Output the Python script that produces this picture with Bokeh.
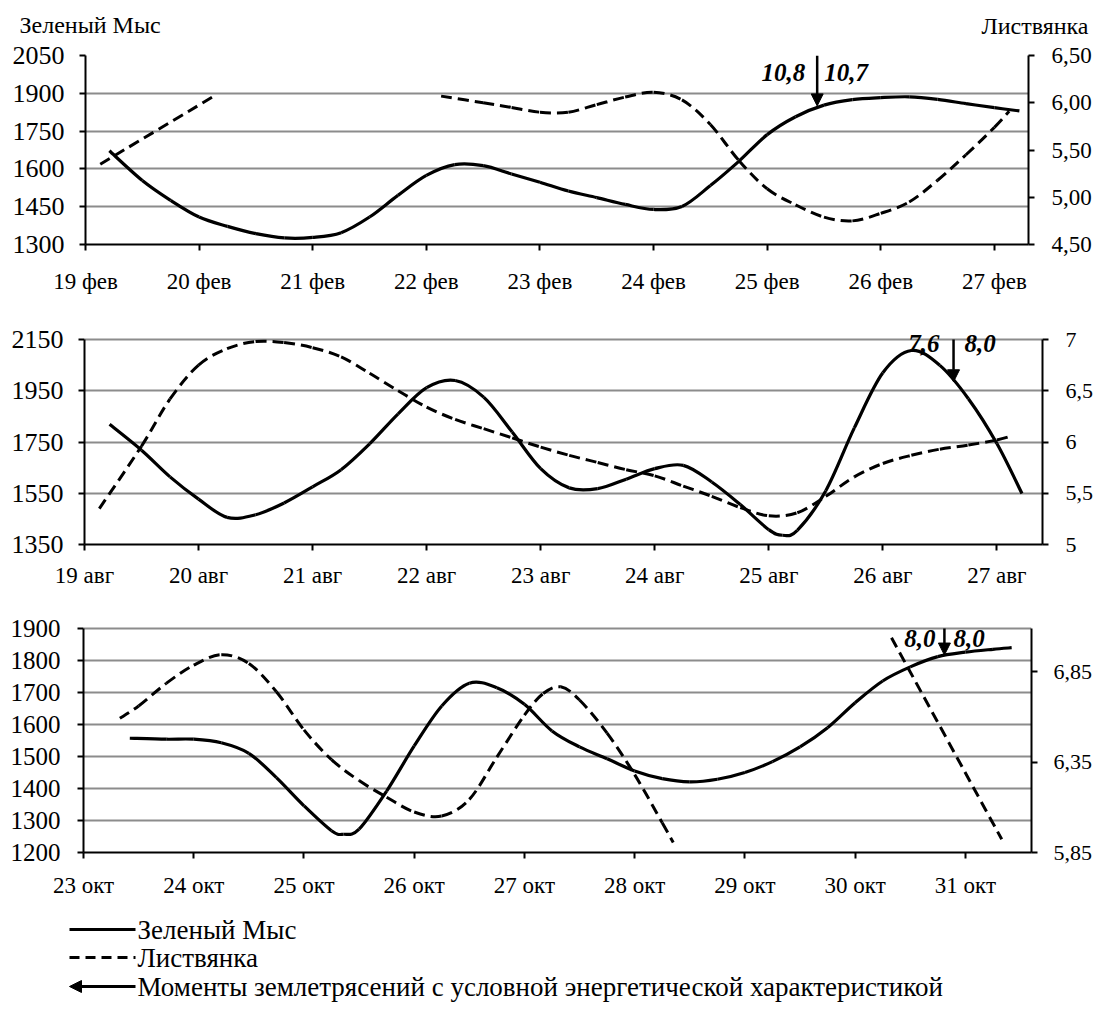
import math
from bokeh.plotting import figure
from bokeh.layouts import column, row
from bokeh.models import Range1d, LinearAxis, FixedTicker, Label, Arrow, NormalHead, ColumnDataSource
from bokeh.embed import file_html
from bokeh.resources import INLINE

NAN = float("nan")
FONT = "Liberation Serif"

# ---------------- February panel ----------------
feb_x_ticks = [19, 20, 21, 22, 23, 24, 25, 26, 27]
feb_x_labels = ["19 фев", "20 фев", "21 фев", "22 фев", "23 фев", "24 фев", "25 фев", "26 фев", "27 фев"]
feb_left_ticks = [1300, 1450, 1600, 1750, 1900, 2050]
feb_right_ticks = [4.5, 5.0, 5.5, 6.0, 6.5]
feb_right_labels = ["4,50", "5,00", "5,50", "6,00", "6,50"]
feb_zm_x = [19.21, 19.5, 19.75, 20.0, 20.25, 20.5, 20.75, 21.0, 21.25, 21.5, 21.75, 22.0, 22.25, 22.5,
            22.75, 23.0, 23.25, 23.5, 23.75, 24.0, 24.25, 24.5, 24.75, 25.0, 25.25, 25.5, 25.75, 26.0,
            26.25, 26.5, 26.75, 27.0, 27.22]
feb_zm_y = [1672, 1554, 1475, 1409, 1372, 1343, 1326, 1328, 1347, 1409, 1495, 1574, 1617, 1613,
            1580, 1547, 1512, 1486, 1459, 1439, 1451, 1534, 1630, 1736, 1807, 1853, 1875, 1883,
            1886, 1876, 1859, 1843, 1830]
feb_lv_x = [19.13, 20.13, 21.13, 22.13, 22.5, 22.75, 23.0, 23.25, 23.5, 23.75, 24.0, 24.25, 24.5,
            24.75, 25.0, 25.25, 25.5, 25.75, 26.0, 26.25, 26.5, 26.75, 27.0, 27.13]
feb_lv_y = [5.35, 6.07, NAN, 6.07, 6.00, 5.95, 5.90, 5.90, 5.98, 6.06, 6.11, 6.03, 5.77,
            5.39, 5.09, 4.92, 4.79, 4.75, 4.83, 4.95, 5.18, 5.45, 5.74, 5.91]
feb_quake_x = 25.44
feb_quake_tip = 1850
feb_quake_text = ["10,8", "10,7"]

# ---------------- August panel ----------------
aug_x_ticks = [19, 20, 21, 22, 23, 24, 25, 26, 27]
aug_x_labels = ["19 авг", "20 авг", "21 авг", "22 авг", "23 авг", "24 авг", "25 авг", "26 авг", "27 авг"]
aug_left_ticks = [1350, 1550, 1750, 1950, 2150]
aug_right_ticks = [5.0, 5.5, 6.0, 6.5, 7.0]
aug_right_labels = ["5", "5,5", "6", "6,5", "7"]
aug_zm_x = [19.22, 19.5, 19.75, 20.0, 20.25, 20.5, 20.75, 21.0, 21.25, 21.5, 21.75, 22.0, 22.25, 22.5,
            22.75, 23.0, 23.25, 23.5, 23.75, 24.0, 24.25, 24.5, 24.75, 25.0, 25.12, 25.25, 25.5, 25.75,
            26.0, 26.25, 26.5, 26.75, 27.0, 27.22]
aug_zm_y = [1819, 1718, 1614, 1527, 1456, 1466, 1512, 1575, 1642, 1743, 1860, 1962, 1990, 1925,
            1789, 1646, 1571, 1568, 1605, 1646, 1659, 1594, 1506, 1408, 1386, 1405, 1560, 1805,
            2020, 2107, 2049, 1919, 1744, 1549]
aug_lv_x = [19.13, 19.5, 19.75, 20.0, 20.25, 20.5, 20.75, 21.0, 21.25, 21.5, 21.75, 22.0, 22.25,
            22.5, 22.75, 23.0, 23.25, 23.5, 23.75, 24.0, 24.25, 24.5, 24.75, 25.0, 25.25, 25.5, 25.75,
            26.0, 26.25, 26.5, 26.75, 27.0, 27.13]
aug_lv_y = [5.35, 5.96, 6.42, 6.75, 6.91, 6.98, 6.97, 6.92, 6.83, 6.67, 6.50, 6.34, 6.22,
            6.13, 6.04, 5.95, 5.87, 5.80, 5.73, 5.67, 5.57, 5.47, 5.36, 5.28, 5.31, 5.47, 5.66,
            5.79, 5.87, 5.93, 5.97, 6.02, 6.06]
aug_quake_x = 26.62
aug_quake_tip = 1985
aug_quake_text = ["7,6", "8,0"]

# ---------------- October panel ----------------
oct_x_ticks = [23, 24, 25, 26, 27, 28, 29, 30, 31]
oct_x_labels = ["23 окт", "24 окт", "25 окт", "26 окт", "27 окт", "28 окт", "29 окт", "30 окт", "31 окт"]
oct_left_ticks = [1200, 1300, 1400, 1500, 1600, 1700, 1800, 1900]
oct_right_ticks = [5.85, 6.35, 6.85]
oct_right_labels = ["5,85", "6,35", "6,85"]
oct_zm_x = [23.42, 23.75, 24.0, 24.25, 24.5, 24.75, 25.0, 25.25, 25.36, 25.5, 25.75, 26.0, 26.25, 26.5,
            26.75, 27.0, 27.25, 27.5, 27.75, 28.0, 28.25, 28.5, 28.75, 29.0, 29.25, 29.5, 29.75, 30.0,
            30.25, 30.5, 30.75, 31.0, 31.25, 31.42]
oct_zm_y = [1557, 1554, 1554, 1543, 1510, 1434, 1346, 1268, 1257, 1273, 1392, 1533, 1658, 1729,
            1715, 1663, 1580, 1530, 1493, 1455, 1431, 1421, 1429, 1450, 1484, 1530, 1590, 1668,
            1736, 1780, 1812, 1826, 1835, 1840]
oct_lv_x = [23.33, 23.5, 23.75, 24.0, 24.25, 24.5, 24.75, 25.0, 25.25, 25.5, 25.75, 26.0, 26.25, 26.5,
            26.75, 27.0, 27.17, 27.33, 27.5, 27.75, 28.0, 28.25, 28.35, 29.33, 30.33, 31.33]
oct_lv_y = [6.593, 6.661, 6.786, 6.887, 6.945, 6.896, 6.740, 6.529, 6.364, 6.248, 6.156, 6.074, 6.052,
            6.144, 6.378, 6.610, 6.730, 6.767, 6.694, 6.511, 6.281, 6.015, 5.905, NAN, 7.039, 5.923]
oct_quake_x = 30.81
oct_quake_tip = 1817
oct_quake_text = ["8,0", "8,0"]

title_left = "Зеленый Мыс"
title_right = "Листвянка"
legend_texts = ["Зеленый Мыс", "Листвянка",
                "Моменты землетрясений с условной энергетической характеристикой"]


def smooth_source(xs, ys):
    """Bezier control points (Excel-like smoothing) for each unbroken run of points."""
    runs, cur = [], []
    for x, y in zip(xs, ys):
        if isinstance(y, float) and math.isnan(y):
            if cur:
                runs.append(cur)
            cur = []
        else:
            cur.append((x, y))
    if cur:
        runs.append(cur)
    d = {k: [] for k in ("x0", "y0", "x1", "y1", "cx0", "cy0", "cx1", "cy1")}
    for pts in runs:
        n = len(pts)
        for i in range(n - 1):
            p0 = pts[i - 1] if i > 0 else pts[i]
            p1, p2 = pts[i], pts[i + 1]
            p3 = pts[i + 2] if i + 2 < n else pts[i + 1]
            d["x0"].append(p1[0]); d["y0"].append(p1[1])
            d["x1"].append(p2[0]); d["y1"].append(p2[1])
            d["cx0"].append(p1[0] + (p2[0] - p0[0]) / 6.0)
            d["cy0"].append(p1[1] + (p2[1] - p0[1]) / 6.0)
            d["cx1"].append(p2[0] - (p3[0] - p1[0]) / 6.0)
            d["cy1"].append(p2[1] - (p3[1] - p1[1]) / 6.0)
    return ColumnDataSource(d)


def style_axis(ax, size):
    ax.axis_line_color = "black"
    ax.axis_line_width = 2
    ax.major_tick_line_color = "black"
    ax.major_tick_line_width = 2
    ax.major_tick_out = 6
    ax.major_tick_in = 0
    ax.minor_tick_out = 0
    ax.minor_tick_in = 0
    ax.major_label_text_font = FONT
    ax.major_label_text_font_size = size
    ax.major_label_text_color = "black"


def make_panel(xr, yl, yr, x_ticks, x_labels, l_ticks, r_ticks, r_labels,
               fw, fh, bl, bt, bb, ext, x_stand, l_size, l_stand, r_size, r_stand,
               zm_x, zm_y, lv_x, lv_y, qx, qtip, qtext, qlabel_y, qoff):
    # ext: extra pixels of frame above the top tick (room for the quake labels)
    ltop = yl[1] + ext * (yl[1] - yl[0]) / fh
    rtop = yr[1] + ext * (yr[1] - yr[0]) / fh
    p = figure(x_range=Range1d(*xr), y_range=Range1d(yl[0], ltop), frame_width=fw, frame_height=fh + ext,
               min_border_left=bl, min_border_top=bt - ext, min_border_bottom=bb, min_border_right=0,
               output_backend="svg", toolbar_location=None)
    p.outline_line_color = None
    p.background_fill_color = "white"
    p.border_fill_color = "white"
    p.xgrid.visible = False
    p.ygrid.ticker = FixedTicker(ticks=l_ticks)
    p.ygrid.grid_line_color = "#8c8c8c"
    p.ygrid.grid_line_width = 2

    p.xaxis.ticker = FixedTicker(ticks=x_ticks)
    p.xaxis.major_label_overrides = dict(zip(x_ticks, x_labels))
    style_axis(p.xaxis[0], "23px")
    p.xaxis.major_label_standoff = x_stand

    p.yaxis.ticker = FixedTicker(ticks=l_ticks)
    p.yaxis.bounds = (yl[0], yl[1])
    style_axis(p.yaxis[0], l_size)
    p.yaxis.major_label_standoff = l_stand

    p.extra_y_ranges = {"r": Range1d(yr[0], rtop)}
    rax = LinearAxis(y_range_name="r", ticker=FixedTicker(ticks=r_ticks), bounds=(yr[0], yr[1]),
                     major_label_overrides=dict(zip(r_ticks, r_labels)))
    style_axis(rax, r_size)
    rax.major_label_standoff = r_stand
    p.add_layout(rax, "right")

    p.bezier(x0="x0", y0="y0", x1="x1", y1="y1", cx0="cx0", cy0="cy0", cx1="cx1", cy1="cy1",
             source=smooth_source(lv_x, lv_y), y_range_name="r",
             line_color="black", line_width=3, line_dash="11 6")
    p.bezier(x0="x0", y0="y0", x1="x1", y1="y1", cx0="cx0", cy0="cy0", cx1="cx1", cy1="cy1",
             source=smooth_source(zm_x, zm_y), line_color="black", line_width=3.2)

    p.add_layout(Arrow(end=NormalHead(size=12, fill_color="black", line_color="black", line_width=1),
                       x_start=qx, y_start=yl[1], x_end=qx, y_end=qtip,
                       line_color="black", line_width=2.5))
    p.add_layout(Label(x=qx, y=qlabel_y, x_offset=-qoff[0], text=qtext[0], text_align="right",
                       text_baseline="middle", text_font=FONT, text_font_style="bold italic",
                       text_font_size="25px", text_color="black"))
    p.add_layout(Label(x=qx, y=qlabel_y, x_offset=qoff[1], text=qtext[1], text_align="left",
                       text_baseline="middle", text_font=FONT, text_font_style="bold italic",
                       text_font_size="25px", text_color="black"))
    return p


def strip(w, h):
    s = figure(frame_width=w, frame_height=h, x_range=Range1d(0, w), y_range=Range1d(0, h),
               x_axis_location=None, y_axis_location=None, min_border=0,
               output_backend="svg", toolbar_location=None)
    s.outline_line_color = None
    s.grid.visible = False
    return s


# header with the two axis captions
HW, HH = 1096, 42
hd = strip(HW, HH)
hd.add_layout(Label(x=19, y=HH - 24, text=title_left, text_align="left", text_baseline="middle",
                    text_font=FONT, text_font_size="24px", text_color="black"))
hd.add_layout(Label(x=1088, y=HH - 25, text=title_right, text_align="right", text_baseline="middle",
                    text_font=FONT, text_font_size="24px", text_color="black"))

p1 = make_panel((19, 27.30), (1300, 2050), (4.5, 6.5), feb_x_ticks, feb_x_labels, feb_left_ticks,
                feb_right_ticks, feb_right_labels, 943, 189, 85, 13, 56, 0, 18,
                "26px", 15, "23px", 17,
                feb_zm_x, feb_zm_y, feb_lv_x, feb_lv_y, feb_quake_x, feb_quake_tip, feb_quake_text,
                1983, (12, 7))

p2 = make_panel((19, 27.40), (1350, 2150), (5.0, 7.0), aug_x_ticks, aug_x_labels, aug_left_ticks,
                aug_right_ticks, aug_right_labels, 958, 205, 84, 39, 46, 11, 12,
                "26px", 15, "22px", 17,
                aug_zm_x, aug_zm_y, aug_lv_x, aug_lv_y, aug_quake_x, aug_quake_tip, aug_quake_text,
                2134, (14, 11))

p3 = make_panel((23, 31.60), (1200, 1900), (5.85, 7.09), oct_x_ticks, oct_x_labels, oct_left_ticks,
                oct_right_ticks, oct_right_labels, 948, 224, 83, 38, 48, 5, 14,
                "25px", 17, "22px", 16,
                oct_zm_x, oct_zm_y, oct_lv_x, oct_lv_y, oct_quake_x, oct_quake_tip, oct_quake_text,
                1869, (9, 9))

# legend strip
LW, LH = 1096, 110
lg = strip(LW, LH)
row_y = [LH - 29, LH - 57, LH - 86]
lg.line(x=[69, 135], y=[row_y[0], row_y[0]], line_color="black", line_width=3)
lg.line(x=[69, 135], y=[row_y[1], row_y[1]], line_color="black", line_width=3, line_dash="10 6")
lg.add_layout(Arrow(end=NormalHead(size=12, fill_color="black", line_color="black", line_width=1),
                    x_start=135, y_start=row_y[2], x_end=69, y_end=row_y[2],
                    line_color="black", line_width=3))
for t, yy in zip(legend_texts, row_y):
    lg.add_layout(Label(x=137, y=yy, text=t, text_align="left", text_baseline="middle",
                        text_font=FONT, text_font_size="27px", text_color="black"))

p = column(row(hd), row(p1), row(p2), row(p3), row(lg), spacing=0)
open("out.html", "w").write(file_html(p, INLINE))
